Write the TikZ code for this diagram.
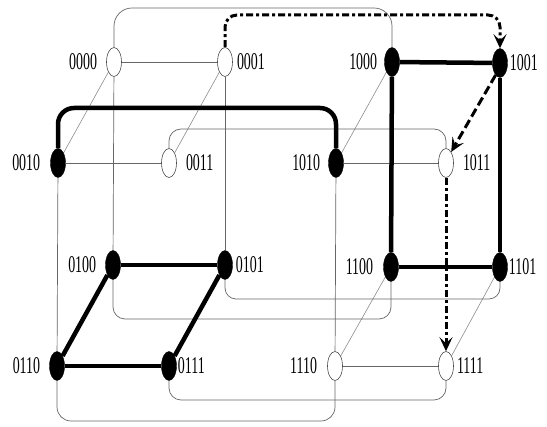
\documentclass[tikz,border=0pt]{standalone}
\usepackage{fontspec}
\newfontfamily\labfont[FakeStretch=0.58]{Liberation Serif}
\usetikzlibrary{shapes.geometric,arrows.meta,backgrounds}
\begin{document}
\begin{tikzpicture}[x=1pt,y=-1pt,
  vtx/.style={ellipse,minimum width=15pt,minimum height=29pt,inner sep=0pt},
  filled/.style={vtx,fill=black,draw=black},
  open/.style={vtx,draw=black!70,line width=0.6pt,fill=white},
  lbl/.style={font=\labfont\fontsize{24}{24}\selectfont,inner sep=0pt},
  thinline/.style={draw=black!60,line width=0.7pt},
  diag/.style={draw=black!45,line width=0.6pt},
  thickline/.style={line width=4.5pt},
  route/.style={thinline,rounded corners=14pt},
  arr/.style={line width=3pt,-{Stealth[length=14pt,width=13pt,inset=6pt]}},
  dashdotline/.style={dash pattern=on 7pt off 3pt on 3pt off 3pt},
  dashline/.style={dash pattern=on 9pt off 4pt},
]
\useasboundingbox (0,0) rectangle (547,427);
% helper levels
\coordinate (y8) at (0,8);
\coordinate (y15) at (0,15);
\coordinate (y108) at (0,108);
\coordinate (y129) at (0,129);
\coordinate (y299) at (0,299);
\coordinate (y319) at (0,319);
\coordinate (y400) at (0,400);
\coordinate (y421) at (0,421);
% vertices
\node[open]   (n0000) at (114,62)  [label={[lbl,label distance=9pt]left:0000}] {};
\node[open]   (n0001) at (225,62)  [label={[lbl,label distance=4pt]right:0001}] {};
\node[filled] (n0010) at (58,163)  [label={[lbl,label distance=10pt]left:0010}] {};
\node[open]   (n0011) at (169,163) [label={[lbl,label distance=9pt]right:0011}] {};
\node[filled] (n1000) at (392,62)  [label={[lbl,label distance=7pt]left:1000}] {};
\node[filled] (n1001) at (500,63)  [label={[lbl,label distance=2pt]right:1001}] {};
\node[filled] (n1010) at (336,163) [label={[lbl,label distance=8pt]left:1010}] {};
\node[open]   (n1011) at (446,163) [label={[lbl,label distance=9pt]right:1011}] {};
\node[filled] (n0100) at (113,265) [label={[lbl,label distance=9pt]left:0100}] {};
\node[filled] (n0101) at (225,265) [label={[lbl,label distance=3pt]right:0101}] {};
\node[filled] (n0110) at (57,366)  [label={[lbl,label distance=9pt]left:0110}] {};
\node[filled] (n0111) at (169,366) [label={[lbl,label distance=1pt]right:0111}] {};
\node[filled] (n1100) at (391,267) [label={[lbl,label distance=10pt]left:1100}] {};
\node[filled] (n1101) at (500,267) [label={[lbl,label distance=1pt]right:1101}] {};
\node[open]   (n1110) at (335,366) [label={[lbl,label distance=10pt]left:1110}] {};
\node[open]   (n1111) at (446,366) [label={[lbl,label distance=3pt]right:1111}] {};
\begin{scope}[on background layer]
% thin horizontal edges
\draw[thinline] (n0000) -- (n0001);
\draw[thinline] (n0010) -- (n0011);
\draw[thinline] (n1010) -- (n1011);
\draw[thinline] (n1110) -- (n1111);
% thin diagonal edges
\draw[diag] (n0000) -- (n0010);
\draw[diag] (n0001) -- (n0011);
\draw[diag] (n1000) -- (n1010);
\draw[diag] (n1100) -- (n1110);
\draw[diag] (n1101) -- (n1111);
% thin vertical edges
\draw[thinline] (n0000) -- (n0100);
\draw[thinline] (n0001) -- (n0101);
\draw[thinline] (n0010) -- (n0110);
\draw[thinline] (n1010) -- (n1110);
% thin routed edges
\draw[route,rounded corners=18pt] (n0000.north) -- (n0000.north |- y8) -- (n1000.north |- y8) -- (n1000.north);
\draw[route,rounded corners=12pt] (n0011.north) -- (n0011.north |- y129) -- (n1011.north |- y129) -- (n1011.north);
\draw[route,rounded corners=12pt] (n0100.south) -- (n0100.south |- y319) -- (n1100.south |- y319) -- (n1100.south);
\draw[route,rounded corners=11pt] (n0101.south) -- (n0101.south |- y299) -- (n1101.south |- y299) -- (n1101.south);
\draw[route,rounded corners=14pt] (n0110.south) -- (n0110.south |- y421) -- (n1110.south |- y421) -- (n1110.south);
\draw[route,rounded corners=12pt] (n0111.south) -- (n0111.south |- y400) -- (n1111.south |- y400) -- (n1111.south);
% thick edges
\draw[thickline] (n1000) -- (n1001);
\draw[thickline] (n1100) -- (n1101);
\draw[thickline] (n1000) -- (n1100);
\draw[thickline] (n1001) -- (n1101);
\draw[thickline] (n0100) -- (n0101);
\draw[thickline] (n0110) -- (n0111);
\draw[thickline] (n0100) -- (n0110);
\draw[thickline] (n0101) -- (n0111);
\draw[thickline,rounded corners=16pt] (n0010.north) -- (n0010.north |- y108) -- (n1010.north |- y108) -- (n1010.north);
\end{scope}
% arrows
\draw[arr,dashdotline,rounded corners=12pt] (n0001.north) -- (n0001.north |- y15) -- (n1001.north |- y15) -- (n1001.north);
\draw[arr,dashline] (n1001.250) -- (n1011.65);
\draw[arr,dashdotline] (n1011.south) -- (n1111.north);
\end{tikzpicture}
\end{document}
